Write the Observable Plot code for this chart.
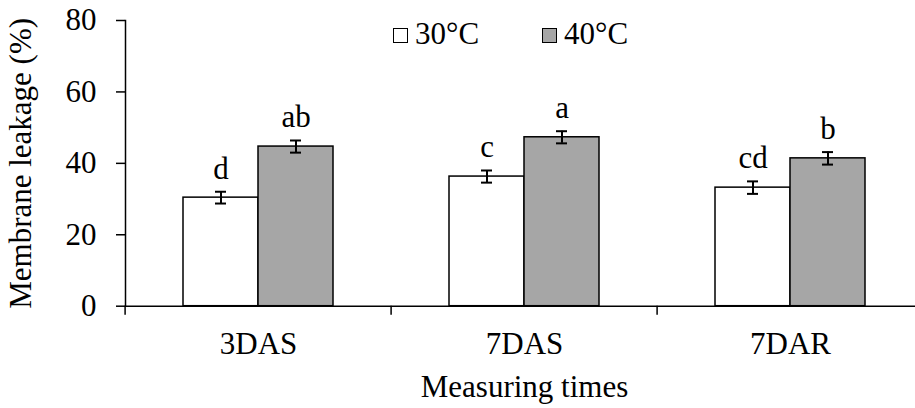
<!DOCTYPE html>
<html>
<head>
<meta charset="utf-8">
<script src="https://cdn.jsdelivr.net/npm/d3@7"></script>
<script src="https://cdn.jsdelivr.net/npm/@observablehq/plot@0.6"></script>
<style>
  html, body { margin: 0; padding: 0; background: white; }
  #chart { position: relative; width: 915px; height: 408px; overflow: hidden; }
  #legend {
    position: absolute; left: 393px; top: 19px;
    display: flex; gap: 63px;
    font-family: "Liberation Serif", "Times New Roman", serif; font-size: 31px; line-height: 30px; color: black;
  }
  #legend .item { display: flex; align-items: center; gap: 7px; }
  #legend .sw { width: 13px; height: 13px; border: 1.5px solid black; margin-top: 3px; }
</style>
</head>
<body>
<div id="chart"></div>
<script>
// Measuring times and temperature treatments
const times = ["3DAS", "7DAS", "7DAR"];
const temps = ["30°C", "40°C"];

// Membrane leakage (%) means and standard errors
const leak30 = [30.4, 36.3, 33.2];
const leak40 = [44.7, 47.3, 41.4];
const err30 = [1.65, 1.7, 1.75];
const err40 = [1.7, 1.7, 1.75];

// Significance letters
const letters30 = ["d", "c", "cd"];
const letters40 = ["ab", "a", "b"];

const yTicks = [0, 20, 40, 60, 80];
const fills = ["white", "#a6a6a6"];

const rows = times.flatMap((t, i) => [
  {time: t, temp: temps[0], value: leak30[i], err: err30[i], letter: letters30[i]},
  {time: t, temp: temps[1], value: leak40[i], err: err40[i], letter: letters40[i]}
]);

const W = 915, H = 408;
const mL = 124, mR = -9.4;
const halfBand = (W - mL - mR) / times.length / 2;

const chart = Plot.plot({
  width: W,
  height: H,
  marginLeft: mL,
  marginRight: mR,
  marginTop: 20,
  marginBottom: 102.3,
  style: {
    fontFamily: "'Liberation Serif', 'Times New Roman', serif",
    fontSize: "31px",
    color: "black",
    background: "white"
  },
  fx: {domain: times, padding: 0, axis: null},
  x: {domain: temps, paddingInner: 0, paddingOuter: 0.755, axis: null},
  y: {domain: [0, 80], axis: null},
  color: {domain: temps, range: fills},
  marks: [
    Plot.barY(rows, {fx: "time", x: "temp", y: "value", fill: "temp", stroke: "black", strokeWidth: 1.5}),
    Plot.ruleX(rows, {fx: "time", x: "temp", y1: d => d.value - d.err, y2: d => d.value + d.err, stroke: "black", strokeWidth: 2}),
    Plot.tickY(rows, {fx: "time", x: "temp", y: d => d.value - d.err, insetLeft: 32, insetRight: 32, stroke: "black", strokeWidth: 2}),
    Plot.tickY(rows, {fx: "time", x: "temp", y: d => d.value + d.err, insetLeft: 32, insetRight: 32, stroke: "black", strokeWidth: 2}),
    Plot.text(rows, {fx: "time", x: "temp", y: d => d.value + d.err, text: "letter", lineAnchor: "bottom", dy: -13, fill: "black"}),
    Plot.ruleY([0], {stroke: "black", strokeWidth: 1.5}),
    Plot.frame({anchor: "left", facetAnchor: "left", stroke: "black", strokeWidth: 1.5}),
    Plot.axisY({
      ticks: yTicks, tickSize: 9, tickPadding: 20, strokeWidth: 1.5,
      label: "Membrane leakage (%)", labelAnchor: "center", labelArrow: "none", labelOffset: 117
    }),
    Plot.axisFx({
      anchor: "bottom", tickSize: 0, tickPadding: 26,
      label: "Measuring times", labelAnchor: "center", labelArrow: "none", labelOffset: 91
    }),
    Plot.axisFx({anchor: "bottom", tickSize: 9, fill: "none", dx: -halfBand, label: null, strokeWidth: 1.5})
  ]
});

const root = document.getElementById("chart");
root.appendChild(chart);

// Legend swatches drawn over the top of the plot area
const legend = document.createElement("div");
legend.id = "legend";
temps.forEach((t, i) => {
  const item = document.createElement("div");
  item.className = "item";
  const sw = document.createElement("div");
  sw.className = "sw";
  sw.style.background = fills[i];
  const lab = document.createElement("span");
  lab.textContent = t;
  item.appendChild(sw);
  item.appendChild(lab);
  legend.appendChild(item);
});
root.appendChild(legend);
</script>
</body>
</html>
